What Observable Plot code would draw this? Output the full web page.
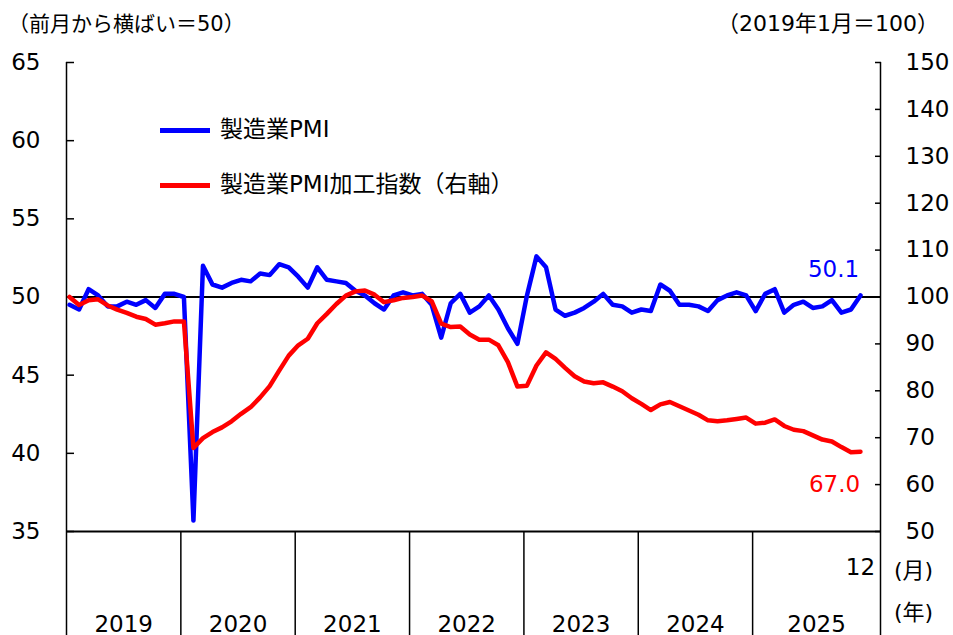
<!DOCTYPE html>
<html><head><meta charset="utf-8">
<script src="https://cdn.jsdelivr.net/npm/d3@7"></script>
<script src="https://cdn.jsdelivr.net/npm/@observablehq/plot@0.6"></script>
<style>
body{margin:0;background:#fff;}
#wrap{position:relative;width:953px;height:635px;overflow:hidden;font-family:"DejaVu Sans","Noto Sans CJK JP",sans-serif;color:#000;}
#wrap svg{position:absolute;left:0;top:0;}
.t{position:absolute;white-space:nowrap;line-height:1;}
.sw{position:absolute;height:5px;width:50px;}
</style></head><body><div id="wrap"></div>
<script>
// ---- data ----
const years = [2019, 2020, 2021, 2022, 2023, 2024, 2025];
const pmi = [
  49.5, 49.2, 50.5, 50.1, 49.4, 49.4, 49.7, 49.5, 49.8, 49.3, 50.2, 50.2,
  50.0, 35.7, 52.0, 50.8, 50.6, 50.9, 51.1, 51.0, 51.5, 51.4, 52.1, 51.9,
  51.3, 50.6, 51.9, 51.1, 51.0, 50.9, 50.4, 50.1, 49.6, 49.2, 50.1, 50.3,
  50.1, 50.2, 49.5, 47.4, 49.6, 50.2, 49.0, 49.4, 50.1, 49.2, 48.0, 47.0,
  50.1, 52.6, 51.9, 49.2, 48.8, 49.0, 49.3, 49.7, 50.2, 49.5, 49.4, 49.0,
  49.2, 49.1, 50.8, 50.4, 49.5, 49.5, 49.4, 49.1, 49.8, 50.1, 50.3, 50.1,
  49.1, 50.2, 50.5, 49.0, 49.5, 49.7, 49.3, 49.4, 49.8, 49.0, 49.2, 50.1
];
const pmiIndex = [
  100.0, 98.3, 99.3, 99.5, 98.2, 97.3, 96.6, 95.8, 95.3, 94.1, 94.4, 94.8,
  94.8, 67.8, 69.9, 71.2, 72.2, 73.5, 75.1, 76.5, 78.6, 81.0, 84.3, 87.5,
  89.7, 91.1, 94.4, 96.4, 98.5, 100.3, 101.2, 101.4, 100.5, 98.9, 99.3, 99.8,
  100.0, 100.3, 99.1, 94.3, 93.6, 93.7, 92.0, 90.9, 90.9, 89.7, 86.1, 80.9,
  81.1, 85.4, 88.2, 86.8, 84.9, 83.1, 82.0, 81.6, 81.8, 80.9, 79.9, 78.4,
  77.2, 75.9, 77.1, 77.6, 76.7, 75.8, 74.9, 73.7, 73.5, 73.7, 74.0, 74.3,
  73.0, 73.2, 73.9, 72.5, 71.7, 71.4, 70.5, 69.6, 69.2, 68.0, 66.9, 67.0
];
const leftTicks = [35, 40, 45, 50, 55, 60, 65];
const rightTicks = [50, 60, 70, 80, 90, 100, 110, 120, 130, 140, 150];
const lastMonthLabel = "12";
const seriesNames = ["製造業PMI", "製造業PMI加工指数（右軸）"];
const colors = ["#0000ff", "#ff0000"];

// ---- scales helpers ----
const leftDomain = [35, 65], rightDomain = [50, 150];
const toLeft = v => leftDomain[0] + (v - rightDomain[0]) * (leftDomain[1] - leftDomain[0]) / (rightDomain[1] - rightDomain[0]);
const xMin = -0.32, xMax = 85.1;

const data = pmi.map((p, i) => ({i, p, v: pmiIndex[i]}));
const last = data[data.length - 1];
const bounds = years.map((y, k) => xMin + 12 * k).concat([xMax]);
const yearMid = years.map((y, k) => ({year: y, x: (bounds[k] + bounds[k + 1]) / 2}));
const rightTickData = rightTicks.map(v => ({v, y: toLeft(v)}));

const FONT = '"DejaVu Sans","Noto Sans CJK JP",sans-serif';

const chart = Plot.plot({
  width: 953, height: 635,
  marginLeft: 66, marginRight: 73, marginTop: 62, marginBottom: 104,
  style: {fontFamily: FONT, fontSize: "23px", color: "#000", background: "transparent", overflow: "visible"},
  x: {domain: [xMin, xMax], axis: null},
  y: {domain: leftDomain, axis: null},
  marks: [
    Plot.ruleY([50], {stroke: "#000", strokeWidth: 2}),
    Plot.ruleX([xMin, xMax], {stroke: "#000", strokeWidth: 1.5}),
    Plot.ruleY([leftDomain[0]], {stroke: "#000", strokeWidth: 2}),
    Plot.axisY({anchor: "left", ticks: leftTicks, tickSize: -8, strokeWidth: 1.5, tickFormat: () => "", label: null}),
    Plot.axisY({anchor: "left", ticks: leftTicks, tickSize: 0, tickPadding: 26, tickFormat: d => String(d), label: null, fontSize: 23}),
    Plot.axisY({anchor: "right", ticks: rightTickData.map(d => d.y), tickSize: -6, strokeWidth: 1.5, tickFormat: () => "", label: null}),
    Plot.axisY({anchor: "right", ticks: rightTickData.map(d => d.y), tickSize: 0, tickPadding: 25,
      tickFormat: (d, k) => String(rightTicks[k]), label: null, fontSize: 23}),
    Plot.axisX({anchor: "bottom", ticks: bounds, tickSize: 104, strokeWidth: 1.5, tickFormat: () => "", label: null}),
    Plot.text(yearMid, {x: "x", text: d => String(d.year), frameAnchor: "bottom", dy: 100, fontSize: 23}),
    Plot.text([last], {x: "i", text: () => lastMonthLabel, frameAnchor: "bottom", dy: 43, fontSize: 23}),
    Plot.text(["(月)"], {text: d => d, frameAnchor: "bottom-right", textAnchor: "middle", dx: 33, dy: 46, fontSize: 22}),
    Plot.text(["(年)"], {text: d => d, frameAnchor: "bottom-right", textAnchor: "middle", dx: 33, dy: 88, fontSize: 22}),
    Plot.line(data, {x: "i", y: "p", stroke: colors[0], strokeWidth: 4.5, strokeLinejoin: "round"}),
    Plot.line(data, {x: "i", y: d => toLeft(d.v), stroke: colors[1], strokeWidth: 4.5, strokeLinejoin: "round"}),
    Plot.text([last], {x: "i", y: "p", text: d => d.p.toFixed(1), fill: colors[0], dx: -27, dy: -26, fontSize: 23}),
    Plot.text([last], {x: "i", y: d => toLeft(d.v), text: d => d.v.toFixed(1), fill: colors[1], dx: -26, dy: 33, fontSize: 23})
  ]
});

const wrap = document.getElementById("wrap");
wrap.appendChild(chart);

function addText(txt, left, top, size, extra) {
  const d = document.createElement("div");
  d.className = "t";
  d.textContent = txt;
  d.style.left = left + "px";
  d.style.top = top + "px";
  d.style.fontSize = size + "px";
  if (extra) Object.assign(d.style, extra);
  wrap.appendChild(d);
  return d;
}
addText("（前月から横ばい＝50）", 8, 14, 21);
addText("（2019年1月＝100）", 0, 13, 22, {left: "auto", right: "14px"});
seriesNames.forEach((name, k) => {
  const cy = [130, 185][k];
  const sw = document.createElement("div");
  sw.className = "sw";
  sw.style.left = "160px";
  sw.style.top = (cy - 2.5) + "px";
  sw.style.background = colors[k];
  wrap.appendChild(sw);
  addText(name, 220, cy - 12, 23);
});
</script></body></html>
